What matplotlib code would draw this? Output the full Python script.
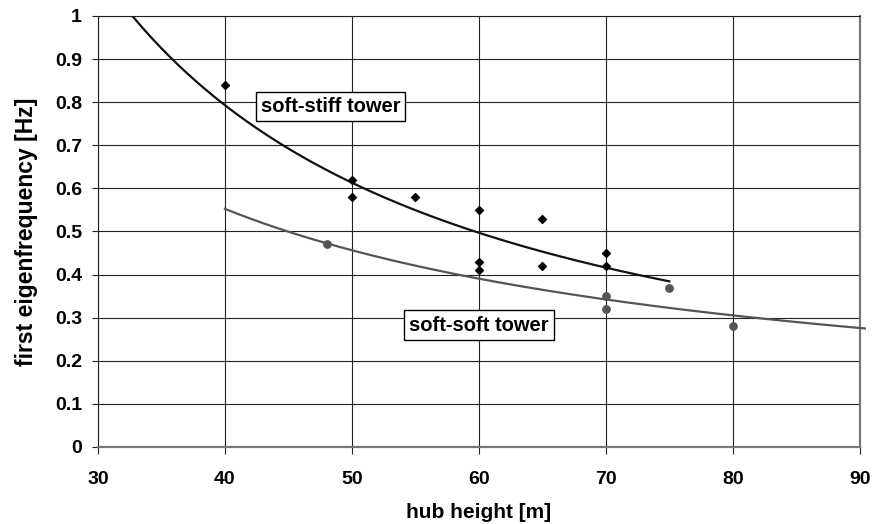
import numpy as np
import matplotlib
matplotlib.use("Agg")
import matplotlib.pyplot as plt

plt.rcParams['font.family'] = ['Liberation Sans', 'DejaVu Sans']
plt.rcParams['font.weight'] = 'bold'

stiff_h = [40, 50, 50, 55, 60, 60, 60, 65, 65, 70, 70]
stiff_f = [0.84, 0.62, 0.58, 0.58, 0.55, 0.43, 0.41, 0.53, 0.42, 0.45, 0.42]
soft_h = [48, 70, 70, 75, 80]
soft_f = [0.47, 0.35, 0.32, 0.37, 0.28]

# power trendlines (fit in log-log space, like Excel)
def power_fit(h, f):
    b, ln_a = np.polyfit(np.log(h), np.log(f), 1)
    return lambda x: np.exp(ln_a) * x ** b

stiff_fit = power_fit(stiff_h, stiff_f)
soft_fit = power_fit(soft_h, soft_f)
xs_stiff = np.linspace(30, 75, 200)
xs_soft = np.linspace(40, 90.4, 200)

fig, ax = plt.subplots(figsize=(8.72, 5.24), dpi=100)
fig.subplots_adjust(left=0.1124, right=0.986, top=0.9695, bottom=0.147)

ax.plot(xs_stiff, stiff_fit(xs_stiff), color='#111111', lw=1.6, zorder=3)
ax.plot(xs_soft, soft_fit(xs_soft), color='#555555', lw=1.6, zorder=3, clip_on=False)
ax.scatter(stiff_h, stiff_f, marker='D', s=16, color='black', zorder=4)
ax.scatter(soft_h, soft_f, marker='o', s=28, color='#555555', zorder=4)

ax.set_xlim(30, 90)
ax.set_ylim(0, 1)
ax.set_xticks(np.arange(30, 91, 10))
ax.set_yticks(np.arange(0, 1.01, 0.1))
ax.set_yticklabels(['0', '0.1', '0.2', '0.3', '0.4', '0.5', '0.6', '0.7', '0.8', '0.9', '1'])
ax.grid(True, color='#222222', lw=0.8)
ax.set_axisbelow(True)
for s in ax.spines.values():
    s.set_color('#222222')
    s.set_linewidth(0.8)
ax.spines['bottom'].set_color('#777777')
ax.spines['bottom'].set_linewidth(1.6)
ax.spines['right'].set_color('#777777')
ax.spines['right'].set_linewidth(1.6)
ax.tick_params(labelsize=14, width=0.8, color='#222222')
ax.tick_params(axis='x', length=5, pad=12)
ax.tick_params(axis='y', length=4.5, pad=7)

ax.set_xlabel('hub height [m]', fontsize=15, fontweight='bold', labelpad=11)
ax.set_ylabel('first eigenfrequency [Hz]', fontsize=16.5, fontweight='bold', labelpad=12)

box = dict(boxstyle='square,pad=0.25', fc='white', ec='black', lw=1)
ax.text(48.3, 0.789, 'soft-stiff tower', fontsize=14.5, fontweight='bold',
        ha='center', va='center', bbox=box, zorder=5)
ax.text(60.0, 0.283, 'soft-soft tower', fontsize=14.5, fontweight='bold',
        ha='center', va='center', bbox=box, zorder=5)

fig.savefig('out.png', dpi=100)
